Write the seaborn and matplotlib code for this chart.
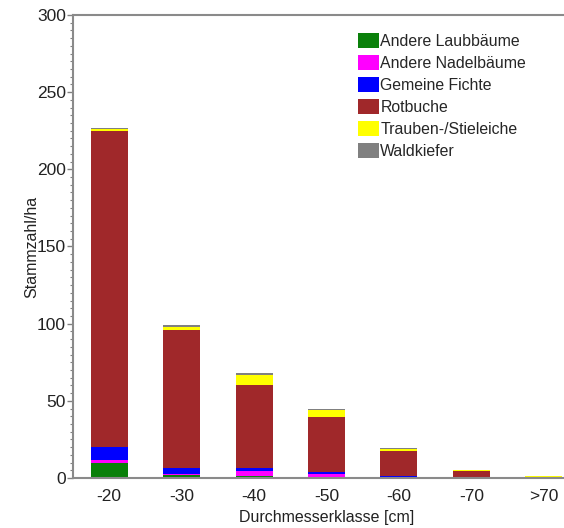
import matplotlib
matplotlib.use("Agg")
import matplotlib.pyplot as plt
from matplotlib.patches import Patch
from matplotlib.ticker import MultipleLocator
import seaborn as sns
import pandas as pd
import numpy as np

classes = ["-20", "-30", "-40", "-50", "-60", "-70", ">70"]
species = ["Andere Laubbäume", "Andere Nadelbäume", "Gemeine Fichte",
           "Rotbuche", "Trauben-/Stieleiche", "Waldkiefer"]
laub = [9.7, 2.1, 1.5, 0.3, 0.0, 0.0, 0.0]
nadel = [2.2, 0.3, 2.8, 2.0, 0.7, 0.0, 0.0]
fichte = [8.0, 4.3, 2.2, 1.5, 0.7, 0.0, 0.0]
rotbuche = [205.0, 89.0, 54.0, 35.6, 16.1, 4.8, 0.7]
eiche = [1.0, 2.2, 6.5, 4.7, 1.5, 0.6, 0.4]
kiefer = [0.8, 1.3, 1.3, 0.8, 0.7, 0.1, 0.0]
values = [laub, nadel, fichte, rotbuche, eiche, kiefer]
colors = ["#0a800a", "#ff00ff", "#0000ff", "#a0282a", "#ffff00", "#808080"]

sns.set_theme(style="white")
plt.rcParams["font.family"] = ["Liberation Sans", "DejaVu Sans"]

fig = plt.figure(figsize=(5.64, 5.28), dpi=100)
ax = fig.add_axes([73 / 564, 50 / 528, 507 / 564, 463 / 528])

bottom = np.zeros(len(classes))
for name, vals, col in zip(species, values, colors):
    df = pd.DataFrame({"Klasse": classes, "Wert": vals})
    sns.barplot(data=df, x="Klasse", y="Wert", order=classes, color=col,
                width=0.51, bottom=bottom, ax=ax, errorbar=None,
                saturation=1, linewidth=0)
    bottom = bottom + np.array(vals)

ax.set_xlim(-0.5, 6.5)
ax.set_ylim(0, 300)
ax.yaxis.set_major_locator(MultipleLocator(50))
ax.yaxis.set_minor_locator(MultipleLocator(5))
ax.tick_params(axis="y", which="major", left=True, length=4, width=1,
               color="#808080", labelsize=12.5, labelcolor="#222222", pad=1)
ax.tick_params(axis="y", which="minor", left=True, length=2.5, width=0.8,
               color="#808080")
ax.tick_params(axis="x", bottom=False, labelsize=12.5, labelcolor="#222222", pad=2)
for s in ax.spines.values():
    s.set_color("#8a8a8a")
    s.set_linewidth(1.5)
ax.set_xlabel("Durchmesserklasse [cm]", fontsize=11.5, color="#222222", labelpad=4)
ax.set_ylabel("Stammzahl/ha", fontsize=11.5, color="#222222", labelpad=-1.5)

handles = [Patch(facecolor=c, edgecolor="none") for c in colors]
fig.legend(handles, species, loc="upper left", bbox_to_anchor=(0.635, 0.938),
           frameon=False, fontsize=11.4, handlelength=1.3, handleheight=1.1,
           handletextpad=0.1, labelspacing=0.38, borderpad=0, borderaxespad=0)

fig.savefig("out.png", dpi=100, facecolor="white")
